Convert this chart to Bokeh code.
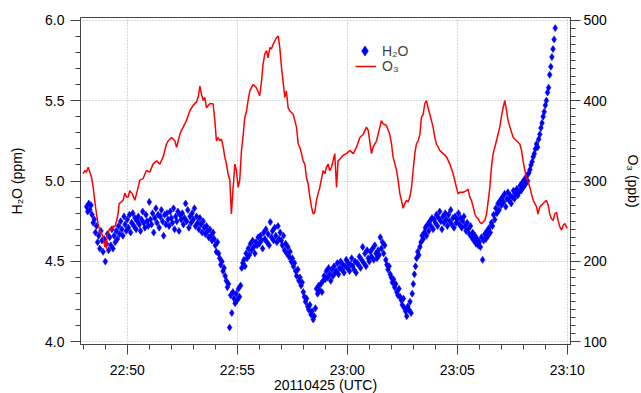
from bokeh.plotting import figure
from bokeh.models import Range1d, LinearAxis, FixedTicker, Legend, LegendItem, ColumnDataSource
from bokeh.embed import file_html
from bokeh.resources import INLINE

# ---------------- data ----------------
# time in minutes after 22:00 UTC on 20110425
o3_time = [
    47.99, 48.07, 48.14, 48.22, 48.30, 48.37, 48.45, 48.52, 48.60, 48.67, 48.75, 48.83, 48.90, 48.98,
    49.02, 49.05, 49.08, 49.13, 49.20, 49.28, 49.36, 49.43, 49.51, 49.58, 49.63, 49.73, 49.81, 49.89,
    49.96, 50.04, 50.11, 50.23, 50.34, 50.42, 50.49, 50.57, 50.72, 50.87, 51.02, 51.17, 51.33, 51.48,
    51.63, 51.78, 51.86, 52.01, 52.16, 52.24, 52.39, 52.46, 52.54, 52.69, 52.84, 52.99, 53.14, 53.22,
    53.30, 53.37, 53.45, 53.52, 53.60, 53.75, 53.90, 53.98, 54.05, 54.13, 54.20, 54.28, 54.36, 54.43,
    54.51, 54.58, 54.66, 54.73, 54.81, 54.89, 54.96, 55.04, 55.11, 55.19, 55.27, 55.34, 55.42, 55.49,
    55.57, 55.64, 55.72, 55.87, 56.02, 56.10, 56.17, 56.25, 56.33, 56.40, 56.48, 56.55, 56.63, 56.78,
    56.86, 56.93, 57.01, 57.08, 57.16, 57.23, 57.31, 57.39, 57.54, 57.69, 57.77, 57.84, 57.92, 57.99,
    58.07, 58.14, 58.22, 58.30, 58.37, 58.45, 58.52, 58.60, 58.67, 58.75, 58.90, 58.98, 59.05, 59.13,
    59.20, 59.28, 59.43, 59.51, 59.58, 59.66, 59.81, 59.96,
    60.11, 60.27, 60.42, 60.57, 60.72, 60.87, 60.95, 61.10, 61.17, 61.33, 61.48, 61.55, 61.63, 61.78,
    61.86, 61.93, 62.01, 62.08, 62.24, 62.31, 62.39, 62.46, 62.54, 62.61, 62.69, 62.77, 62.84, 62.92,
    62.99, 63.07, 63.14, 63.22, 63.30, 63.37, 63.45, 63.52, 63.60, 63.67, 63.75, 63.90, 63.98, 64.05,
    64.13, 64.20, 64.36, 64.51, 64.66, 64.81, 64.96, 65.04, 65.11, 65.27, 65.42, 65.49, 65.57, 65.64,
    65.72, 65.80, 65.87, 65.95, 66.02, 66.10, 66.17, 66.25, 66.33, 66.48, 66.55, 66.63, 66.78, 66.93,
    67.01, 67.08, 67.16, 67.24, 67.31, 67.39, 67.54, 67.69, 67.84, 67.92, 67.99, 68.07, 68.14, 68.22,
    68.30, 68.37, 68.45, 68.60, 68.67, 68.75, 68.83, 68.90, 69.05, 69.13, 69.20, 69.28, 69.36, 69.43,
    69.51, 69.58, 69.66, 69.74, 69.81, 69.89, 69.96, 69.99,
]
o3_ppb = [
    309, 313, 311, 317, 311, 305, 292, 276, 259, 247, 239, 235, 230, 218,
    226, 216, 233, 235, 241, 239, 244, 243, 250, 259, 272, 274, 276, 285,
    280, 280, 288, 284, 276, 284, 292, 301, 303, 313, 311, 321, 325, 321,
    330, 346, 350, 354, 350, 342, 358, 363, 367, 375, 387, 394, 398, 404,
    418, 408, 400, 404, 391, 396, 396, 375, 350, 354, 350, 352, 342, 330,
    321, 309, 301, 259, 292, 321, 313, 292, 301, 338, 358, 379, 387, 400,
    412, 416, 420, 416, 406, 424, 445, 458, 462, 453, 466, 464, 470, 478,
    480, 466, 441, 424, 404, 412, 391, 387, 383, 367, 346, 342, 334, 325,
    321, 305, 296, 280, 268, 259, 261, 276, 284, 292, 313, 309, 317, 321,
    313, 317, 334, 292, 325, 327, 332, 334,
    338, 334, 342, 354, 358, 367, 363, 334, 342, 350, 367, 375, 371, 369,
    363, 358, 346, 330, 313, 301, 284, 276, 266, 272, 276, 274, 280, 292,
    313, 334, 346, 350, 358, 379, 383, 396, 400, 391, 383, 367, 354, 346,
    342, 338, 334, 330, 321, 309, 292, 284, 286, 286, 288, 290, 280, 276,
    268, 259, 255, 253, 249, 247, 249, 251, 259, 292, 317, 334, 350, 367,
    381, 391, 400, 387, 375, 367, 354, 350, 346, 338, 325, 313, 305, 299,
    292, 284, 276, 268, 259, 268, 270, 272, 276, 270, 259, 253, 251, 259,
    261, 251, 243, 239, 245, 247, 243, 241,
]

# H2O sampled every 3 s (0.05 min) starting 22:48:09
h2o_start_min = 48.15
h2o_step_min = 0.05
h2o_ppm = [
    4.84, 4.81, 4.86, 4.82, 4.85, 4.79, 4.74,
    4.76, 4.68, 4.72, 4.62, 4.66, 4.58, 4.69, 4.63, 4.56, 4.64,
    4.50, 4.61, 4.67, 4.57, 4.65, 4.60, 4.70, 4.58, 4.66, 4.62,
    4.69, 4.64, 4.72, 4.67, 4.75, 4.70, 4.66, 4.78, 4.73, 4.69,
    4.76, 4.71, 4.79, 4.68, 4.74, 4.80, 4.72, 4.77, 4.70, 4.75,
    4.78, 4.73, 4.69, 4.76, 4.81, 4.74, 4.71, 4.79, 4.75, 4.72,
    4.87, 4.76, 4.73, 4.80, 4.68, 4.77, 4.83, 4.74, 4.79, 4.71,
    4.78, 4.82, 4.75, 4.66, 4.79, 4.73, 4.80, 4.76, 4.72, 4.81,
    4.77, 4.74, 4.83, 4.70, 4.78, 4.75, 4.81, 4.69, 4.79, 4.76,
    4.80, 4.73, 4.77, 4.86, 4.75, 4.82, 4.71, 4.78, 4.74, 4.80,
    4.76, 4.83, 4.72, 4.78, 4.74, 4.70, 4.77, 4.73, 4.68, 4.75,
    4.71, 4.67, 4.72, 4.69, 4.65, 4.70, 4.66, 4.63, 4.68, 4.64,
    4.60, 4.56, 4.62, 4.55, 4.52, 4.48, 4.50, 4.44, 4.46, 4.41,
    4.38, 4.34, 4.36, 4.09, 4.29, 4.18, 4.31, 4.27, 4.24, 4.30,
    4.26, 4.33, 4.28, 4.35, 4.46, 4.49, 4.51, 4.47, 4.55, 4.52,
    4.58, 4.54, 4.61, 4.57, 4.63, 4.59, 4.55, 4.62, 4.60, 4.65,
    4.61, 4.66, 4.63, 4.58, 4.68, 4.64, 4.70, 4.62, 4.67, 4.60,
    4.745, 4.65, 4.69, 4.63, 4.71, 4.66, 4.62, 4.72, 4.64, 4.68,
    4.63, 4.60, 4.66, 4.57, 4.61, 4.55, 4.59, 4.53, 4.56, 4.50,
    4.52, 4.47, 4.49, 4.44, 4.41, 4.45, 4.38, 4.40, 4.35, 4.37,
    4.31, 4.28, 4.25, 4.27, 4.22, 4.20, 4.23, 4.17, 4.19, 4.14,
    4.16, 4.21, 4.33, 4.30, 4.35, 4.32, 4.36, 4.31, 4.38, 4.41,
    4.39, 4.44, 4.40, 4.46, 4.42, 4.38, 4.45, 4.41, 4.47, 4.43,
    4.44, 4.49, 4.42, 4.46, 4.50, 4.45, 4.48, 4.43, 4.47, 4.51,
    4.46, 4.49, 4.44, 4.48, 4.52, 4.47, 4.45, 4.50, 4.43, 4.49,
    4.48, 4.53, 4.46, 4.51, 4.59, 4.49, 4.55, 4.47, 4.57, 4.52,
    4.50, 4.56, 4.53, 4.58, 4.51, 4.60, 4.55, 4.52, 4.57, 4.54,
    4.65, 4.58, 4.62, 4.55, 4.60, 4.51, 4.48, 4.45, 4.47, 4.42,
    4.40, 4.37, 4.39, 4.34, 4.36, 4.31, 4.29, 4.33, 4.28, 4.26,
    4.23, 4.27, 4.21, 4.19, 4.16, 4.22, 4.20, 4.25, 4.18, 4.30,
    4.36, 4.42, 4.47, 4.52, 4.56, 4.54, 4.59, 4.62, 4.66, 4.64,
    4.68, 4.71, 4.66, 4.73, 4.69, 4.75, 4.72, 4.77, 4.70, 4.76,
    4.74, 4.79, 4.72, 4.77, 4.81, 4.75, 4.70, 4.78, 4.74, 4.80,
    4.76, 4.72, 4.79, 4.75, 4.82, 4.73, 4.77, 4.71, 4.78, 4.74,
    4.76, 4.80, 4.73, 4.77, 4.71, 4.75, 4.78, 4.72, 4.69, 4.74,
    4.70, 4.67, 4.72, 4.65, 4.68, 4.63, 4.66, 4.61, 4.64, 4.60,
    4.62, 4.59, 4.65, 4.51, 4.63, 4.67, 4.64, 4.69, 4.66, 4.71,
    4.68, 4.74, 4.72, 4.79, 4.76, 4.83, 4.80, 4.86, 4.82, 4.88,
    4.85, 4.90, 4.87, 4.92, 4.84, 4.89, 4.93, 4.88, 4.91, 4.86,
    4.90, 4.94, 4.89, 4.92, 4.95, 4.91, 4.93, 4.97, 4.94, 4.99,
    4.96, 5.01, 4.98, 5.03, 5.00, 5.05, 5.07, 5.10, 5.12, 5.15,
    5.17, 5.20, 5.23, 5.21, 5.26, 5.29, 5.33, 5.36, 5.40, 5.43,
    5.47, 5.50, 5.55, 5.58, 5.66, 5.71, 5.77, 5.82, 5.88, 5.95,
]
h2o_time = [round(h2o_start_min + i * h2o_step_min, 2) for i in range(len(h2o_ppm))]

x_ticks = [50, 55, 60, 65, 70]
x_tick_labels = ["22:50", "22:55", "23:00", "23:05", "23:10"]
h2o_ticks = [4.0, 4.5, 5.0, 5.5, 6.0]
h2o_tick_labels = ["4.0", "4.5", "5.0", "5.5", "6.0"]
o3_ticks = [100, 200, 300, 400, 500]

# ---------------- figure ----------------
FONT = "Liberation Sans"
AX = "#444444"
H2O_LO, H2O_HI = 3.984, 6.016

p = figure(
    frame_width=490, frame_height=327,
    min_border_left=80, min_border_right=63, min_border_top=17, min_border_bottom=41,
    x_range=Range1d(47.873, 70.145), y_range=Range1d(H2O_LO, H2O_HI),
    output_backend="svg", toolbar_location=None,
    background_fill_color="white", border_fill_color="white",
)
p.outline_line_color = AX
p.outline_line_width = 1
p.extra_y_ranges = {"o3": Range1d(100 + (H2O_LO - 4) * 200, 100 + (H2O_HI - 4) * 200)}

src_h2o = ColumnDataSource(dict(t=h2o_time, v=h2o_ppm))
src_o3 = ColumnDataSource(dict(t=o3_time, v=o3_ppb))

r_h2o = p.scatter("t", "v", source=src_h2o, marker="diamond", size=7,
                  fill_color="#0000ff", line_color="#0000ff", line_width=0.6)
r_o3 = p.line("t", "v", source=src_o3, y_range_name="o3", line_color="#ff0000", line_width=1.5)

# axes
xa = p.xaxis[0]
xa.ticker = FixedTicker(ticks=x_ticks, minor_ticks=list(range(48, 71)))
xa.major_label_overrides = {t: l for t, l in zip(x_ticks, x_tick_labels)}
xa.axis_label = "20110425 (UTC)"

ya = p.yaxis[0]
ya.ticker = FixedTicker(ticks=h2o_ticks, minor_ticks=[round(4.0 + 0.1 * i, 1) for i in range(21)])
ya.major_label_overrides = {t: l for t, l in zip(h2o_ticks, h2o_tick_labels)}
ya.axis_label = "H\u2082O (ppm)"

ra = LinearAxis(y_range_name="o3", axis_label="O\u2083 (ppb)",
                ticker=FixedTicker(ticks=o3_ticks, minor_ticks=list(range(100, 501, 10))))
p.add_layout(ra, "right")

for ax in (xa, ya, ra):
    ax.major_tick_out = 10
    ax.major_tick_in = 0
    ax.minor_tick_out = 5
    ax.minor_tick_in = 0
    ax.axis_line_color = AX
    ax.major_tick_line_color = AX
    ax.minor_tick_line_color = AX
    ax.major_label_text_font = FONT
    ax.major_label_text_font_size = "14px"
    ax.major_label_text_color = "black"
    ax.axis_label_text_font = FONT
    ax.axis_label_text_font_size = "14px"
    ax.axis_label_text_font_style = "normal"
    ax.axis_label_text_color = "black"

xa.major_label_standoff = 7
xa.axis_label_standoff = -4
ya.major_label_standoff = 6
ya.axis_label_standoff = 17
ra.major_label_standoff = 3
ra.axis_label_standoff = 15

# grid
p.xgrid.ticker = FixedTicker(ticks=x_ticks)
p.ygrid.ticker = FixedTicker(ticks=h2o_ticks)
for g in (p.xgrid[0], p.ygrid[0]):
    g.grid_line_color = "#b0b0b0"
    g.grid_line_dash = "1 2"
    g.grid_line_width = 1

# legends
leg1 = Legend(items=[LegendItem(label="H\u2082O", renderers=[r_h2o])],
              location=(272, 281), glyph_width=25, glyph_height=25, label_height=25,
              label_standoff=5, padding=0, margin=0, spacing=0,
              border_line_alpha=0, background_fill_alpha=0,
              label_text_font=FONT, label_text_font_size="14px")
leg2 = Legend(items=[LegendItem(label="O\u2083", renderers=[r_o3])],
              location=(275, 270), glyph_width=21, glyph_height=16, label_height=16,
              label_standoff=6, padding=0, margin=0, spacing=0,
              border_line_alpha=0, background_fill_alpha=0,
              label_text_font=FONT, label_text_font_size="14px")
p.add_layout(leg1)
p.add_layout(leg2)

open("out.html", "w").write(file_html(p, INLINE))
